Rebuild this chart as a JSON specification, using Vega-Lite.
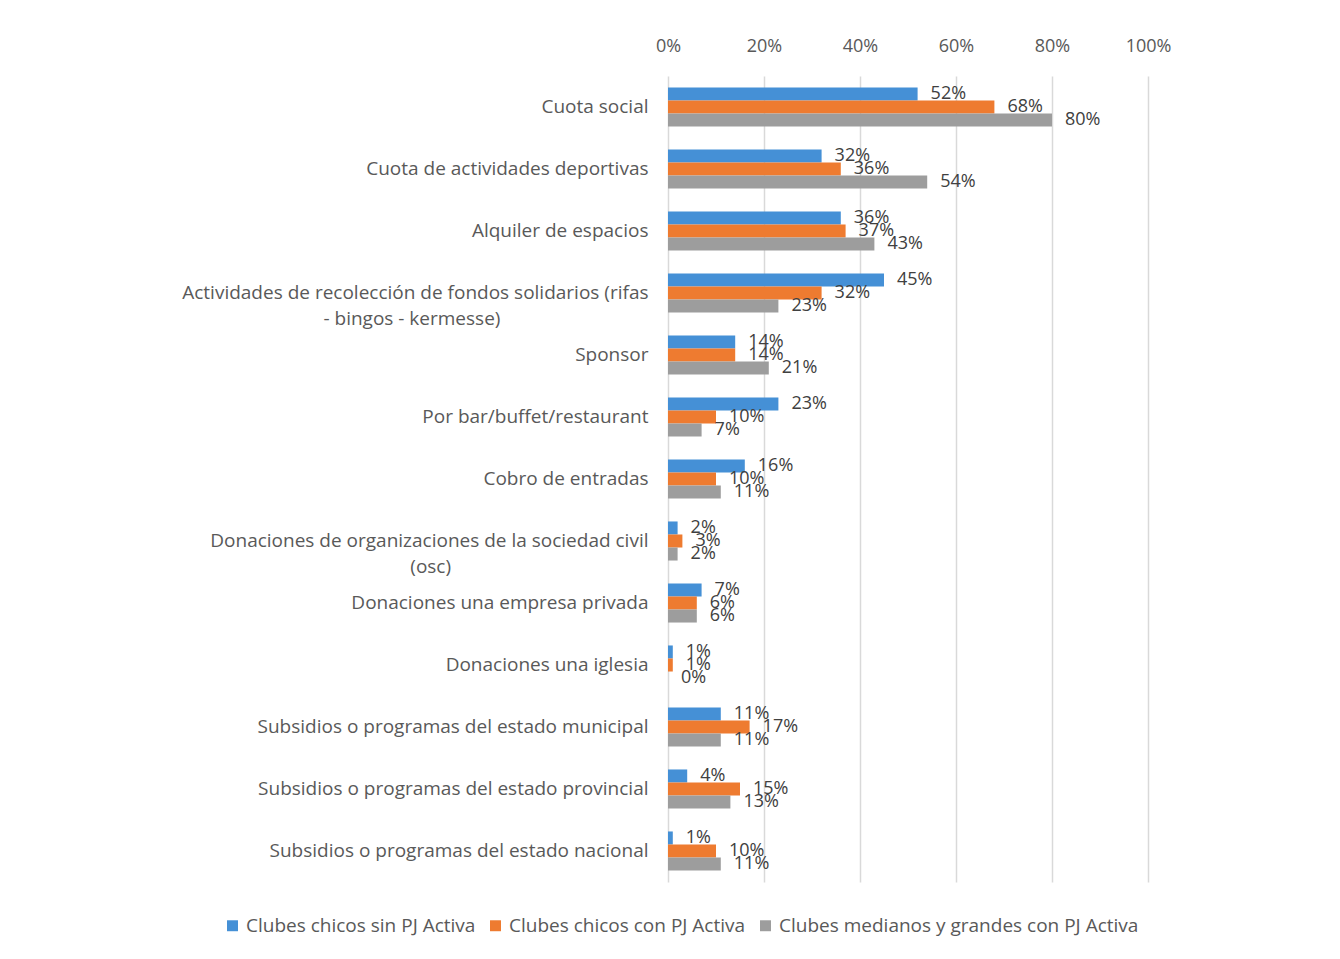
{
  "$schema": "https://vega.github.io/schema/vega-lite/v6.json",
  "width": 480,
  "height": 806,
  "padding": {"left": 181, "top": 37, "right": 20, "bottom": 10},
  "background": "#ffffff",
  "config": {
    "font": "Open Sans",
    "view": {"stroke": null}
  },
  "data": {
    "values": [
      {"cat": "Cuota social", "serie": "Clubes chicos sin PJ Activa", "v": 0.52},
      {"cat": "Cuota social", "serie": "Clubes chicos con PJ Activa", "v": 0.68},
      {"cat": "Cuota social", "serie": "Clubes medianos y grandes con PJ Activa", "v": 0.80},
      {"cat": "Cuota de actividades deportivas", "serie": "Clubes chicos sin PJ Activa", "v": 0.32},
      {"cat": "Cuota de actividades deportivas", "serie": "Clubes chicos con PJ Activa", "v": 0.36},
      {"cat": "Cuota de actividades deportivas", "serie": "Clubes medianos y grandes con PJ Activa", "v": 0.54},
      {"cat": "Alquiler de espacios", "serie": "Clubes chicos sin PJ Activa", "v": 0.36},
      {"cat": "Alquiler de espacios", "serie": "Clubes chicos con PJ Activa", "v": 0.37},
      {"cat": "Alquiler de espacios", "serie": "Clubes medianos y grandes con PJ Activa", "v": 0.43},
      {"cat": "Actividades de recolección de fondos solidarios (rifas - bingos - kermesse)", "serie": "Clubes chicos sin PJ Activa", "v": 0.45},
      {"cat": "Actividades de recolección de fondos solidarios (rifas - bingos - kermesse)", "serie": "Clubes chicos con PJ Activa", "v": 0.32},
      {"cat": "Actividades de recolección de fondos solidarios (rifas - bingos - kermesse)", "serie": "Clubes medianos y grandes con PJ Activa", "v": 0.23},
      {"cat": "Sponsor", "serie": "Clubes chicos sin PJ Activa", "v": 0.14},
      {"cat": "Sponsor", "serie": "Clubes chicos con PJ Activa", "v": 0.14},
      {"cat": "Sponsor", "serie": "Clubes medianos y grandes con PJ Activa", "v": 0.21},
      {"cat": "Por bar/buffet/restaurant", "serie": "Clubes chicos sin PJ Activa", "v": 0.23},
      {"cat": "Por bar/buffet/restaurant", "serie": "Clubes chicos con PJ Activa", "v": 0.10},
      {"cat": "Por bar/buffet/restaurant", "serie": "Clubes medianos y grandes con PJ Activa", "v": 0.07},
      {"cat": "Cobro de entradas", "serie": "Clubes chicos sin PJ Activa", "v": 0.16},
      {"cat": "Cobro de entradas", "serie": "Clubes chicos con PJ Activa", "v": 0.10},
      {"cat": "Cobro de entradas", "serie": "Clubes medianos y grandes con PJ Activa", "v": 0.11},
      {"cat": "Donaciones de organizaciones de la sociedad civil (osc)", "serie": "Clubes chicos sin PJ Activa", "v": 0.02},
      {"cat": "Donaciones de organizaciones de la sociedad civil (osc)", "serie": "Clubes chicos con PJ Activa", "v": 0.03},
      {"cat": "Donaciones de organizaciones de la sociedad civil (osc)", "serie": "Clubes medianos y grandes con PJ Activa", "v": 0.02},
      {"cat": "Donaciones una empresa privada", "serie": "Clubes chicos sin PJ Activa", "v": 0.07},
      {"cat": "Donaciones una empresa privada", "serie": "Clubes chicos con PJ Activa", "v": 0.06},
      {"cat": "Donaciones una empresa privada", "serie": "Clubes medianos y grandes con PJ Activa", "v": 0.06},
      {"cat": "Donaciones una iglesia", "serie": "Clubes chicos sin PJ Activa", "v": 0.01},
      {"cat": "Donaciones una iglesia", "serie": "Clubes chicos con PJ Activa", "v": 0.01},
      {"cat": "Donaciones una iglesia", "serie": "Clubes medianos y grandes con PJ Activa", "v": 0.0},
      {"cat": "Subsidios o programas del estado municipal", "serie": "Clubes chicos sin PJ Activa", "v": 0.11},
      {"cat": "Subsidios o programas del estado municipal", "serie": "Clubes chicos con PJ Activa", "v": 0.17},
      {"cat": "Subsidios o programas del estado municipal", "serie": "Clubes medianos y grandes con PJ Activa", "v": 0.11},
      {"cat": "Subsidios o programas del estado provincial", "serie": "Clubes chicos sin PJ Activa", "v": 0.04},
      {"cat": "Subsidios o programas del estado provincial", "serie": "Clubes chicos con PJ Activa", "v": 0.15},
      {"cat": "Subsidios o programas del estado provincial", "serie": "Clubes medianos y grandes con PJ Activa", "v": 0.13},
      {"cat": "Subsidios o programas del estado nacional", "serie": "Clubes chicos sin PJ Activa", "v": 0.01},
      {"cat": "Subsidios o programas del estado nacional", "serie": "Clubes chicos con PJ Activa", "v": 0.10},
      {"cat": "Subsidios o programas del estado nacional", "serie": "Clubes medianos y grandes con PJ Activa", "v": 0.11}
    ]
  },
  "encoding": {
    "y": {
      "field": "cat",
      "type": "nominal",
      "sort": null,
      "title": null,
      "scale": {"paddingInner": 0.37, "paddingOuter": 0.185},
      "axis": {
        "ticks": false,
        "domain": false,
        "labelFontSize": 19,
        "labelColor": "#595959",
        "labelPadding": 20,
        "labelLimit": 700,
        "labelLineHeight": 26,
        "labelExpr": "datum.label == 'Actividades de recolección de fondos solidarios (rifas - bingos - kermesse)' ? ['Actividades de recolección de fondos solidarios (rifas', pad('- bingos - kermesse)', 50, '\u00a0') + '\u200b'] : datum.label == 'Donaciones de organizaciones de la sociedad civil (osc)' ? ['Donaciones de organizaciones de la sociedad civil', pad('(osc)', 45, '\u00a0') + '\u200b'] : datum.label"
      }
    },
    "yOffset": {
      "field": "serie",
      "type": "nominal",
      "sort": ["Clubes chicos sin PJ Activa", "Clubes chicos con PJ Activa", "Clubes medianos y grandes con PJ Activa"]
    },
    "x": {
      "field": "v",
      "type": "quantitative",
      "scale": {"domain": [0, 1], "nice": false},
      "title": null,
      "axis": {
        "orient": "top",
        "format": "%",
        "values": [0, 0.2, 0.4, 0.6, 0.8, 1],
        "labelOverlap": false,
        "labelFlush": false,
        "ticks": false,
        "domain": false,
        "grid": true,
        "gridColor": "#d9d9d9",
        "gridWidth": 1.5,
        "labelFontSize": 18,
        "labelColor": "#595959",
        "labelPadding": 21
      }
    }
  },
  "layer": [
    {
      "mark": {"type": "bar"},
      "encoding": {
        "color": {
          "field": "serie",
          "type": "nominal",
          "sort": ["Clubes chicos sin PJ Activa", "Clubes chicos con PJ Activa", "Clubes medianos y grandes con PJ Activa"],
          "scale": {
            "domain": ["Clubes chicos sin PJ Activa", "Clubes chicos con PJ Activa", "Clubes medianos y grandes con PJ Activa"],
            "range": ["#4590d6", "#ee7b30", "#9d9d9d"]
          },
          "legend": {
            "orient": "none",
            "legendX": -445,
            "legendY": 840,
            "direction": "horizontal",
            "title": null,
            "symbolType": "square",
            "symbolSize": 120,
            "symbolStrokeWidth": 0,
            "labelFontSize": 19,
            "labelColor": "#595959",
            "labelOffset": 4,
            "columnPadding": 10,
            "labelLimit": 500
          }
        }
      }
    },
    {
      "mark": {"type": "text", "align": "left", "baseline": "middle", "dx": 13, "fontSize": 18, "color": "#404040"},
      "encoding": {
        "text": {"field": "v", "type": "quantitative", "format": ".0%"}
      }
    }
  ]
}
